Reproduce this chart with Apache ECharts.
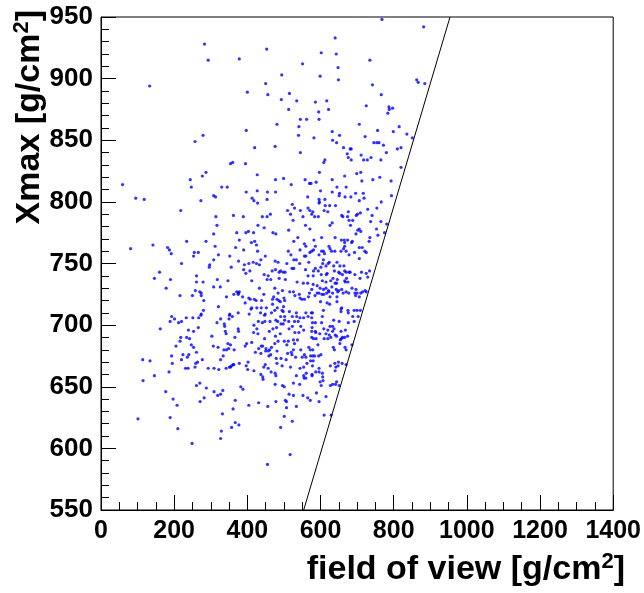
<!DOCTYPE html>
<html>
<head>
<meta charset="utf-8">
<script src="https://cdn.jsdelivr.net/npm/echarts@6/dist/echarts.min.js"></script>
<style>
html,body{margin:0;padding:0;background:#fff;}
#chart{width:644px;height:593px;}
</style>
</head>
<body>
<div id="chart"></div>
<script>
// field of view [g/cm2] and Xmax [g/cm2] of each event
const fov = [
283,453,293,378,133,450,400,456,481,397,279,257,420,476,360,354,395,
768,882,640,602,643,735,551,648,494,599,649,863,867,885,742,766,515,493,535,586,617,513,595,622,725,787,797,788,784,545,562,596,706,541,815,632,756,799,540,652,836,582,722,851,633,644,746,754,760,772,663,681,684,820,810,545,673,780,711,676,738,684,718,728,765,612,609,
287,277,244,427,477,59,247,330,345,397,427,455,477,308,313,95,118,273,413,418,454,428,218,314,362,389,441,454,463,317,429,446,371,396,403,417,470,478,308,378,420,411,425,234,287,142,81,182,187,192,312,368,390,255,266,253,321,352,428,449,308,376,437,476,484,220,297,296,392,404,416,425,433,356,477,468,390,407,396,487,446,457,454,464,160,146,190,261,261,279,318,347,412,178,258,270,274,274,216,250,308,326,371,378,363,375,376,387,404,419,408,424,433,445,475,484,472,481,486,469,281,343,439,394,469,321,412,426,438,452,410,475,280,352,375,405,449,466,482,274,436,
597,699,710,820,499,558,570,574,588,632,666,713,743,762,793,520,600,632,645,670,652,651,667,683,696,706,717,719,612,596,597,565,596,613,625,794,523,766,529,510,545,579,566,571,576,584,594,610,620,641,729,754,676,701,709,698,658,661,674,678,688,682,518,525,552,559,632,626,741,737,765,781,753,702,706,697,710,735,733,775,757,513,571,538,527,603,582,640,657,665,674,685,687,666,666,663,623,626,556,560,586,544,512,519,576,581,571,603,608,611,630,639,656,670,678,706,714,721,725,693,706,560,556,596,527,534,543,568,508,491,498,503,522,527,559,586,581,594,601,615,621,608,606,624,645,653,664,666,636,638,650,653,660,670,678,681,694,712,725,734,729,708,671,487,504,536,553,565,580,566,580,602,616,618,605,615,628,634,640,644,646,666,668,675,591,599,608,615,622,631,643,650,658,670,686,697,700,715,722,725,496,516,526,530,542,544,549,556,567,576,570,585,591,596,604,609,617,623,626,633,645,647,662,677,694,696,706,710,500,502,490,499,495,498,515,534,560,575,578,600,608,618,625,645,656,656,658,675,676,692,700,709,
193,201,189,212,220,233,251,267,273,317,327,337,338,350,359,351,375,376,340,342,162,239,253,266,418,426,430,441,448,462,478,483,447,429,417,460,470,480,303,218,234,242,366,216,205,247,253,307,320,347,354,336,343,349,364,398,394,412,438,442,431,422,437,450,457,461,477,484,475,466,447,451,481,193,261,224,240,236,220,334,114,134,195,264,259,257,231,238,277,293,309,322,327,342,351,354,357,363,361,378,397,402,401,418,445,449,457,465,476,478,437,442,443,459,464,479,481,146,115,186,270,261,288,309,319,327,333,382,388,476,177,197,208,271,282,367,404,431,456,478,332,361,101,189,210,367,377,357,329,327,249,455,
491,502,523,535,544,554,566,576,605,636,651,676,692,703,688,502,513,529,539,492,498,523,546,554,541,530,514,490,578,586,603,609,620,626,633,637,577,586,576,587,598,615,633,656,668,624,640,644,657,654,660,666,674,501,512,526,537,529,508,576,581,588,593,610,620,628,653,635,667,670,686,638,526,520,510,522,532,506,492,550,556,568,572,579,573,579,584,595,601,546,560,573,580,563,554,544,495,518,578,596,627,639,642,648,649,659,670,640,561,577,587,596,605,606,607,554,560,534,577,555,599,602,627,633,641,644,651,526,543,496,501,514,526,552,565,589,615,504,507,572,596,534,507,610,629,501,523,491,517
];
const xmax = [
928,924,915,916,894,896,889,887,863,858,854,849,844,845,832,831,831,
948,942,933,921,920,915,912,909,903,902,899,899,897,896,895,887,888,883,882,881,882,875,873,875,878,877,876,875,872,867,867,867,863,861,861,857,858,857,854,854,855,852,853,852,850,848,848,848,848,846,844,843,843,844,843,840,839,840,838,836,836,834,834,834,834,834,832,
824,821,818,822,818,814,812,812,812,808,809,808,808,805,804,803,802,801,803,801,802,799,793,788,789,788,788,788,790,781,781,779,775,775,776,775,775,774,774,769,768,767,765,768,768,765,762,763,761,758,764,763,761,759,759,756,757,756,760,756,753,752,753,752,751,750,749,747,749,750,751,750,749,747,745,744,745,744,742,743,741,740,737,737,743,738,737,740,735,735,737,736,736,730,728,727,726,724,724,724,731,731,727,727,725,725,726,723,722,721,721,720,730,725,730,726,723,721,720,721,720,723,720,718,717,715,714,714,714,714,713,712,712,709,710,709,709,710,714,709,710,
824,823,824,828,819,818,815,815,816,818,821,817,818,820,817,814,809,808,812,812,807,805,804,804,807,801,807,803,802,802,800,804,799,797,797,805,798,800,795,793,793,792,795,793,790,788,788,793,792,797,794,795,792,790,791,789,789,788,788,785,785,781,790,785,788,781,783,781,789,784,784,782,778,777,778,774,776,771,768,775,773,777,778,771,768,771,769,771,769,769,769,767,768,767,764,762,764,762,766,764,764,761,760,757,760,761,759,760,760,758,760,760,760,760,757,763,763,760,759,759,754,756,756,757,753,753,750,751,750,744,743,743,746,746,745,746,744,744,747,748,750,753,750,751,751,748,748,744,748,744,743,742,741,743,743,743,741,743,742,744,739,738,738,738,737,735,734,734,733,740,740,741,741,742,736,735,736,738,734,734,737,736,735,735,732,730,729,730,728,731,729,728,729,727,730,729,726,727,728,727,728,727,727,724,725,722,721,721,723,729,726,724,726,726,725,725,726,727,723,726,723,727,726,726,726,724,723,726,722,720,719,715,712,711,711,710,710,710,710,719,712,718,717,719,711,713,714,712,710,712,712,712,
707,705,703,702,703,706,706,706,708,702,705,701,699,705,707,708,697,695,695,693,697,696,695,698,700,697,703,702,703,703,704,703,708,693,694,695,697,698,691,690,690,689,690,687,683,684,682,683,682,685,684,680,680,681,680,685,683,686,683,683,681,678,677,679,679,680,691,687,685,682,689,681,679,675,678,676,676,674,672,675,672,671,669,670,669,666,665,665,672,665,665,664,672,665,666,666,667,668,668,669,667,670,664,663,666,668,665,662,661,659,660,658,656,675,676,673,669,659,655,662,653,651,649,646,643,644,647,650,648,652,646,640,635,638,641,639,635,637,634,638,628,632,624,625,616,621,619,617,614,608,604,587,
707,707,707,707,706,706,707,706,707,704,703,702,703,707,707,704,703,703,703,701,701,699,699,696,694,694,697,693,702,702,702,697,696,699,699,697,698,695,695,694,693,693,695,695,696,692,692,691,689,688,690,690,691,687,687,688,688,685,684,690,689,689,684,689,689,690,685,682,682,680,684,680,680,678,677,676,674,672,673,674,676,682,680,680,675,675,675,675,676,680,674,671,671,669,666,665,667,666,667,665,667,669,666,667,670,669,668,663,661,660,662,662,661,658,655,659,657,659,659,657,654,651,651,652,652,654,651,653,652,651,650,644,643,643,641,645,642,639,638,639,638,634,633,627,627,626,622,617,595
];
// diagonal reference line (field of view ~ Xmax)
const lineFov = [554, 954];
const lineXmax = [550, 950];
// axis settings
const xRange = [0, 1400];
const yRange = [550, 950];
const xStep = 200;
const yStep = 50;

const points = fov.map((v, i) => [v, xmax[i]]);
const linePts = lineFov.map((v, i) => [v, lineXmax[i]]);

const labelFont = "'Liberation Sans',Arial,Helvetica,sans-serif";
const chart = echarts.init(document.getElementById('chart'), null, {renderer: 'canvas'});
chart.setOption({
  backgroundColor: '#ffffff',
  animation: false,
  grid: {left: 101, right: 26, top: 17, bottom: 83, show: true, borderColor: '#000', borderWidth: 1, backgroundColor: 'transparent'},
  xAxis: {
    type: 'value', min: xRange[0], max: xRange[1], interval: xStep,
    axisLine: {show: true, lineStyle: {color: '#000', width: 1}},
    axisTick: {show: true, inside: true, length: 15, lineStyle: {color: '#000'}},
    minorTick: {show: true, splitNumber: 4, length: 8, lineStyle: {color: '#000'}},
    splitLine: {show: false}, minorSplitLine: {show: false},
    axisLabel: {margin: 9, color: '#000', fontFamily: labelFont, fontWeight: 'bold', fontSize: 25,
      formatter: v => String(v)}
  },
  yAxis: {
    type: 'value', min: yRange[0], max: yRange[1], interval: yStep,
    axisLine: {show: true, lineStyle: {color: '#000', width: 1}},
    axisTick: {show: true, inside: true, length: 15, lineStyle: {color: '#000'}},
    minorTick: {show: true, splitNumber: 5, length: 8, lineStyle: {color: '#000'}},
    splitLine: {show: false}, minorSplitLine: {show: false},
    axisLabel: {margin: 8, color: '#000', fontFamily: labelFont, fontWeight: 'bold', fontSize: 26,
      formatter: v => String(v)}
  },
  series: [
    {type: 'scatter', data: points, symbol: 'circle', symbolSize: 3.2, itemStyle: {color: '#0000ff'}, silent: true},
    {type: 'line', data: linePts, symbol: 'none', lineStyle: {color: '#000', width: 1}, silent: true}
  ],
  graphic: [
    {type: 'text', x: 625, y: 570, style: {
      text: '{a|field of view [g/cm}{b|2}{a|]}', align: 'right', verticalAlign: 'middle',
      rich: {a: {fontFamily: labelFont, fontWeight: 'bold', fontSize: 34, fill: '#000', lineHeight: 38},
             b: {fontFamily: labelFont, fontWeight: 'bold', fontSize: 22, fill: '#000', verticalAlign: 'top', lineHeight: 20}}
    }},
    {type: 'text', x: 30, y: 10, rotation: Math.PI / 2, style: {
      text: '{a|Xmax [g/cm}{b|2}{a|]}', align: 'right', verticalAlign: 'middle',
      rich: {a: {fontFamily: labelFont, fontWeight: 'bold', fontSize: 34, fill: '#000', lineHeight: 38},
             b: {fontFamily: labelFont, fontWeight: 'bold', fontSize: 22, fill: '#000', verticalAlign: 'top', lineHeight: 20}}
    }}
  ]
});
</script>
</body>
</html>
